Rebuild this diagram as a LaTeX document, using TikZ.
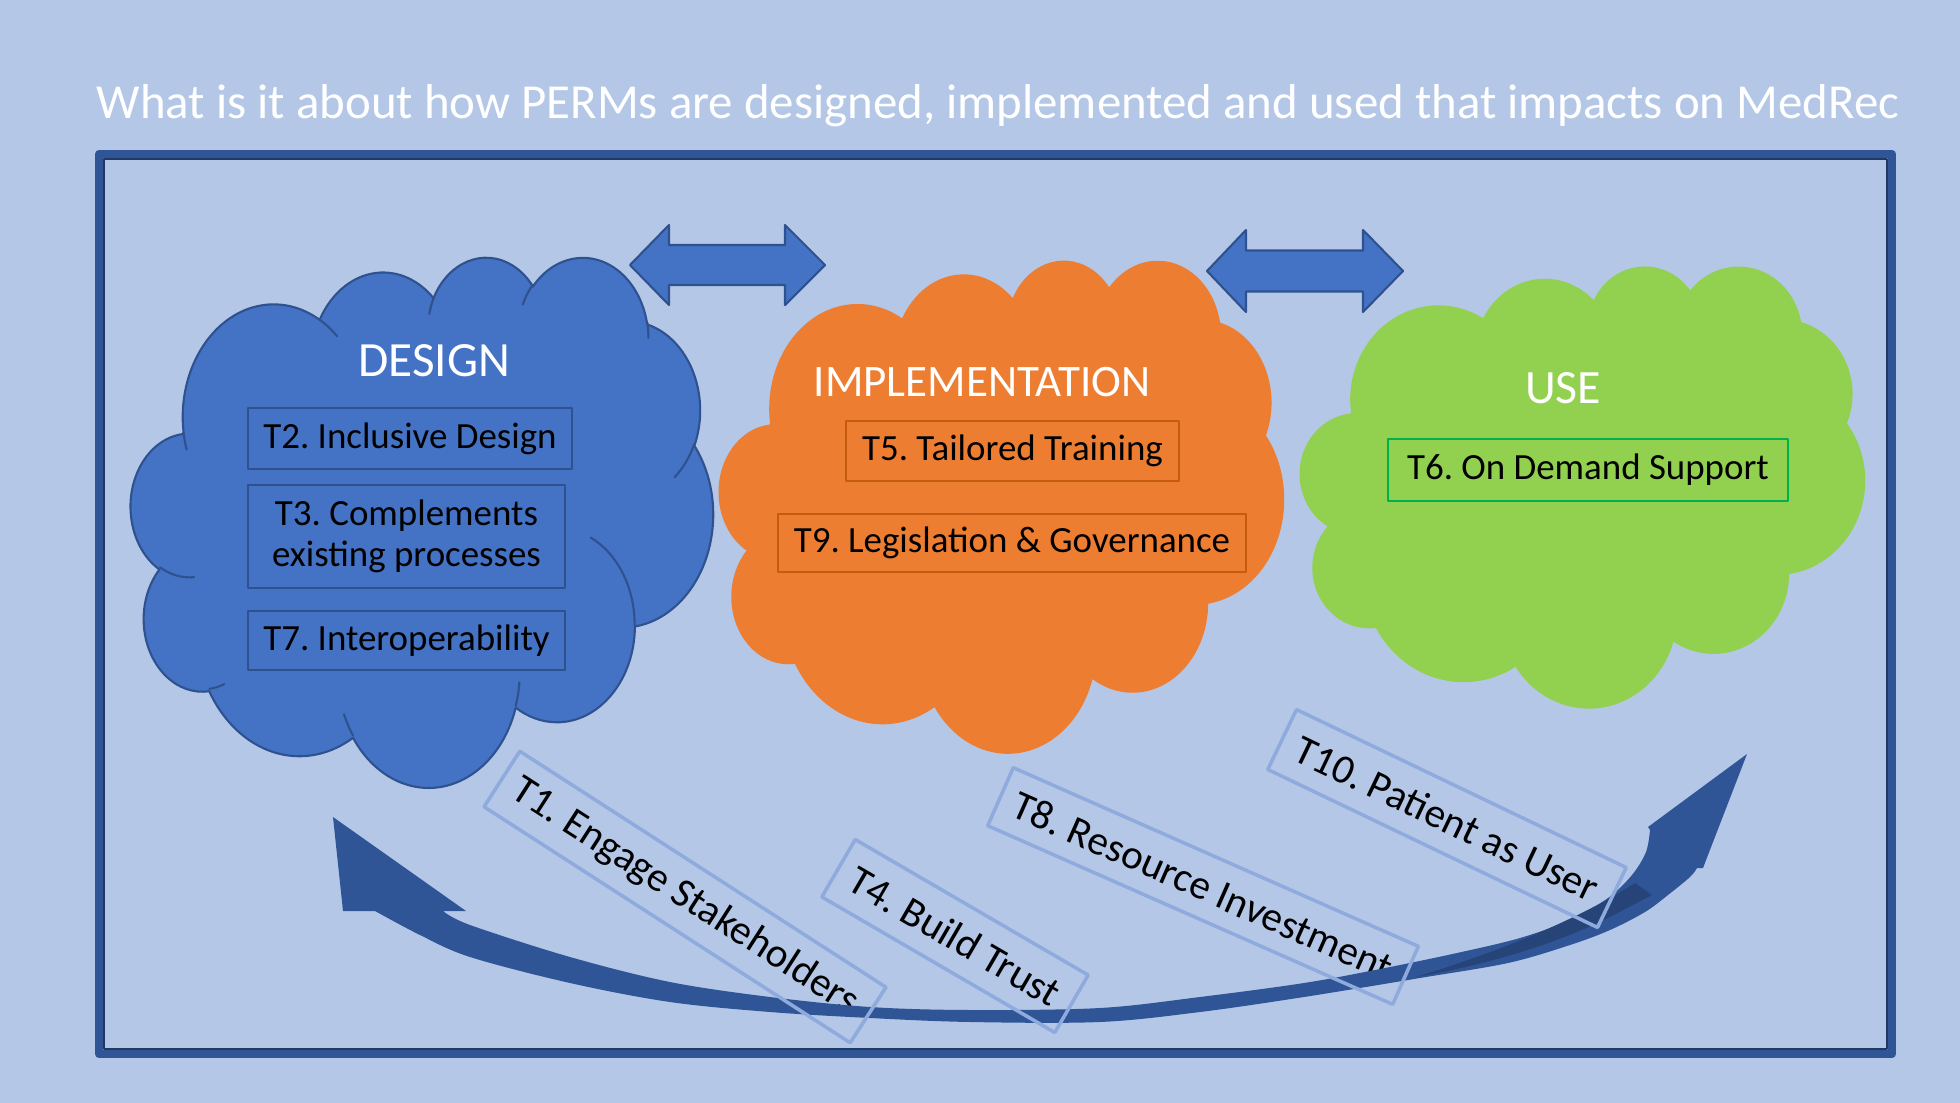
\documentclass[tikz,border=0pt]{standalone}
\usepackage{fontspec}
\setmainfont{Carlito}
\usepackage{tikz}

\definecolor{bgblue}{HTML}{B4C7E7}
\definecolor{framblue}{HTML}{2F5597}
\definecolor{framdark}{HTML}{1F3864}
\definecolor{desblue}{HTML}{4472C4}
\definecolor{desline}{HTML}{2F528F}
\definecolor{impor}{HTML}{ED7D31}
\definecolor{implin}{HTML}{C55A11}
\definecolor{usegreen}{HTML}{92D050}
\definecolor{uselin}{HTML}{00B050}
\definecolor{arrblue}{HTML}{2F5597}
\definecolor{arrdark}{HTML}{264478}
\definecolor{tiltblue}{HTML}{8FAADC}

% cloud outline, drawn in a 432 x 432 box then stretched
\newcommand{\pptcloud}[5]{%
\begin{scope}[shift={(#2,#3)},xscale=#4/432,yscale=#5/432]
\path[#1] (39.00,143.70)
 arc[start angle=-187.746,delta angle=128.108,x radius=67.53,y radius=91.90]
 arc[start angle=-152.025,delta angle=106.587,x radius=53.33,y radius=72.67]
 arc[start angle=-153.498,delta angle=116.180,x radius=43.65,y radius=59.45]
 arc[start angle=-139.701,delta angle=129.489,x radius=48.57,y radius=65.95]
 arc[start angle=-74.768,delta angle=97.981,x radius=53.33,y radius=72.73]
 arc[start angle=-37.519,delta angle=119.381,x radius=67.75,y radius=92.20]
 arc[start angle=0.460,delta angle=121.515,x radius=57.85,y radius=78.67]
 arc[start angle=16.844,delta angle=129.382,x radius=67.52,y radius=92.15]
 arc[start angle=58.984,delta angle=91.197,x radius=77.20,y radius=105.43]
 arc[start angle=83.305,delta angle=139.763,x radius=43.60,y radius=59.18]
 arc[start angle=120.353,delta angle=143.760,x radius=43.45,y radius=59.45]
 -- cycle;
\end{scope}}

% the small seams between the puffs
\newcommand{\pptseams}[5]{%
\begin{scope}[shift={(#2,#3)},xscale=#4/432,yscale=#5/432]
\draw[#1] (46.93,261.77) arc[start angle=85.547,delta angle=34.806,x radius=43.45,y radius=59.45]
 (69.28,348.99) arc[start angle=68.234,delta angle=15.071,x radius=43.60,y radius=59.18]
 (164.78,390.90) arc[start angle=146.226,delta angle=12.248,x radius=67.52,y radius=92.15]
 (288.27,347.51) arc[start angle=4.738,delta angle=12.106,x radius=67.52,y radius=92.15]
 (341.29,229.54) arc[start angle=-64.030,delta angle=64.490,x radius=57.85,y radius=78.67]
 (417.98,153.54) arc[start angle=23.213,delta angle=26.439,x radius=53.33,y radius=72.73]
 (383.24,54.26) arc[start angle=-10.212,delta angle=11.033,x radius=48.57,y radius=65.95]
 (290.78,39.52) arc[start angle=-156.287,delta angle=16.586,x radius=48.57,y radius=65.95]
 (221.41,47.20) arc[start angle=-167.727,delta angle=14.229,x radius=43.65,y radius=59.45]
 (140.00,51.92) arc[start angle=-59.638,delta angle=13.930,x radius=67.53,y radius=91.90]
 (41.27,157.89) arc[start angle=163.194,delta angle=9.060,x radius=67.53,y radius=91.90];
\end{scope}}

\begin{document}
\frenchspacing
\begin{tikzpicture}[line cap=round,line join=round,x=0.01cm,y=-0.01cm,
  head/.style={anchor=base,text=white,font=\fontsize{13.6}{15}\selectfont},
  dbox/.style={draw=desline,line width=0.5pt,inner sep=0pt,text=black,font=\fontsize{10.5}{11.8}\selectfont},
  ibox/.style={dbox,draw=implin},
  ubox/.style={dbox,draw=uselin,line width=0.7pt},
  tilt/.style={inner sep=0pt,text=black,font=\fontsize{11.7}{13}\selectfont},
  tline/.style={draw=tiltblue,line width=1pt},
  dblarr/.style={fill=desblue,draw=desline,line width=0.6pt}]
\useasboundingbox (0,0) rectangle (1960,1103);
\fill[bgblue] (0,0) rectangle (1960,1103);

\draw (998,118) node[anchor=base,text=white,font=\fontsize{13.9}{16}\selectfont] (title) {What is it about how PERMs are designed, implemented and used that impacts on MedRec};

% frame
\draw[framblue,line width=0.08cm] (99,154) rectangle (1892,1054);
\draw[framdark,line width=0.025cm] (104,159) rectangle (1887,1049);

% clouds
\pptcloud{fill=desblue,draw=desline,line width=0.6pt}{131}{256}{582}{530}
\pptseams{desline,line width=0.6pt}{131}{256}{582}{530}
\pptcloud{fill=impor}{719}{259}{565}{493}
\pptcloud{fill=usegreen}{1300}{265}{565}{442}

% double arrows between the clouds
\draw[dblarr] (630,265) -- (669,225) -- (669,245) -- (785,245) -- (785,225) -- (825,265)
  -- (785,305) -- (785,285) -- (669,285) -- (669,305) -- cycle;
\draw[dblarr] (1207,271) -- (1246,230) -- (1246,250.5) -- (1363,250.5) -- (1363,230) -- (1403,271)
  -- (1363,312) -- (1363,291.5) -- (1246,291.5) -- (1246,312) -- cycle;

\draw (434,376) node[head,font=\fontsize{14}{15}\selectfont] (hdesign) {DESIGN};
\draw (982,396) node[head,font=\fontsize{12.8}{15}\selectfont] (himpl) {IMPLEMENTATION};
\draw (1563,403) node[head] (huse) {USE};

\draw (410,438.5) node[dbox,minimum width=3.24cm,minimum height=0.61cm] (t2) {T2. Inclusive Design};
\draw (406.5,536.5) node[dbox,minimum width=3.17cm,minimum height=1.03cm,align=center] (t3) {T3. Complements\\existing processes};
\draw (406.5,640.5) node[dbox,minimum width=3.17cm,minimum height=0.59cm] (t7) {T7. Interoperability};
\draw (1012.5,451) node[ibox,minimum width=3.33cm,minimum height=0.595cm] (t5) {T5. Tailored Training};
\draw (1012,543) node[ibox,minimum width=4.67cm,minimum height=0.58cm] (t9) {T9. Legislation \& Governance};
\draw (1588,470) node[ubox,minimum width=4.00cm,minimum height=0.62cm] (t6) {T6. On Demand Support};

% tilted themes along the bottom
\draw (685,897) node[tilt,rotate=-32.8,minimum width=4.34cm,minimum height=0.646cm] (t1) {T1. Engage Stakeholders};
\draw (955,936) node[tilt,rotate=-30.2,minimum width=2.68cm,minimum height=0.65cm] (t4) {T4. Build Trust};
\draw (1203,886) node[tilt,rotate=-23.8,minimum width=4.41cm,minimum height=0.62cm] (t8) {T8. Resource Investment};
\draw (1447,818.5) node[tilt,rotate=-25.6,minimum width=3.64cm,minimum height=0.65cm] (t10) {T10. Patient as User};

% big curved arrow
\fill[arrblue] (333,817) -- (343,911) -- (375,911)
  -- plot[smooth,tension=0.55] coordinates {(375,911) (420,935) (470,957) (570,983) (670,1002) (770,1012) (870,1018) (970,1022) (1100,1022) (1200,1012) (1304,997) (1420,978) (1508,963) (1570,945) (1610,930) (1645,912) (1668,895) (1690,877) (1697,868)}
  -- (1703,868) -- (1747,754) -- (1648,827)
  -- plot[smooth,tension=0.55] coordinates {(1650,830) (1646,852) (1632,875) (1608,898) (1570,920) (1520,938) (1457,953) (1380,969) (1304,983) (1200,997) (1100,1008) (970,1010) (870,1007) (770,997) (670,982) (570,957) (470,925) (443,911)}
  -- (466,911) -- cycle;
\fill[arrdark] (1416,977) .. controls (1520,945) and (1590,912) .. (1635,883) -- (1652,895) -- (1627,908)
  .. controls (1560,945) and (1480,966) .. (1416,977) -- cycle;

\foreach \n in {t1,t4,t8,t10}
  \draw[tline] (\n.north west) -- (\n.north east) -- (\n.south east) -- (\n.south west) -- cycle;
\end{tikzpicture}
\end{document}
